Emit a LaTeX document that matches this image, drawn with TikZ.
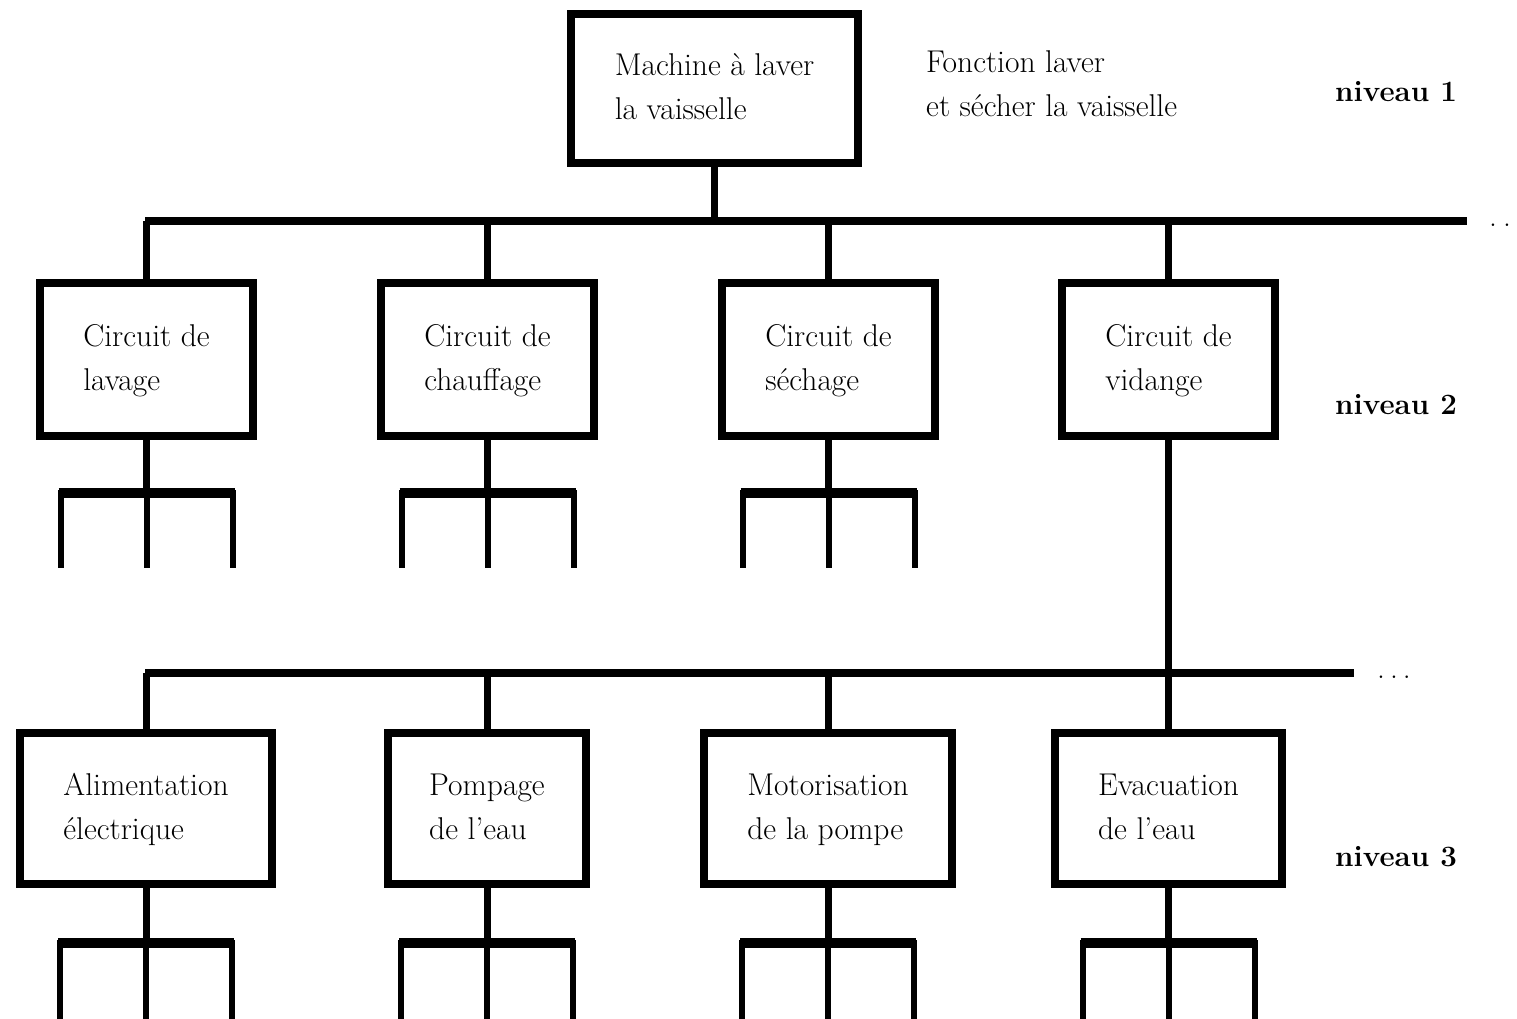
\documentclass[tikz,border=0pt]{standalone}
\usepackage{fontspec}
\setmainfont{Latin Modern Roman}
\begin{document}
\begin{tikzpicture}[x=1pt,y=-1pt,
  box/.style={draw,line width=8pt,inner sep=0pt,align=left,font=\fontsize{31.5}{44}\selectfont},
  lbl/.style={inner sep=0pt,align=left,font=\fontsize{31.5}{44}\selectfont},
  lvl/.style={inner sep=0pt,anchor=west,font=\fontsize{29.5}{44}\selectfont\bfseries},
  bus/.style={line width=8.5pt},
  stem/.style={line width=7pt},
  bar/.style={line width=10pt},
  leg/.style={line width=6pt}]
\useasboundingbox (0,0) rectangle (1517,1018);
% level 1
\node[box,minimum width=287pt,minimum height=149pt] (top) at (714.5,88.5) {\strut Machine à laver\\la vaisselle\strut};
\node[lbl,anchor=west] (fn) at (926,86) {\strut Fonction laver\\et sécher la vaisselle\strut};
\node[lvl] (n1) at (1335,92) {niveau 1};
% bus 1
\coordinate (b1l) at (145,221);
\coordinate (b1r) at (1467,221);
\draw[bus] (b1l) -- (b1r);
\draw[stem] (top.south) -- (top.south |- b1l);
\node[lbl,anchor=base west] (d1) at (1489,226) {.\hspace{6pt}.};
% level 2
\foreach \n/\x/\t in {c1/146.5/{Circuit de\\lavage},c2/487.5/{Circuit de\\chauffage},c3/828.5/{Circuit de\\séchage},c4/1168.5/{Circuit de\\vidange}}{
  \node[box,minimum width=213pt,minimum height=153pt] (\n) at (\x,359.5) {\strut\t\strut};
  \draw[stem] (\n.north |- b1l) -- (\n.north);
}
\node[lvl] (n2) at (1335,405) {niveau 2};
% forks level 2
\foreach \n in {c1,c2,c3}{
  \coordinate (j\n) at (\n.south |- 0,493);
  \draw[stem] (\n.south) -- (j\n);
  \draw[bar] (j\n) ++(-88,0) -- ++(176,0);
  \draw[leg] (j\n) ++(-86,-3) -- ++(0,78);
  \draw[leg] (j\n) ++(0,-3) -- ++(0,78);
  \draw[leg] (j\n) ++(86,-3) -- ++(0,78);
}
% bus 2
\coordinate (b2l) at (145,673);
\coordinate (b2r) at (1354,673);
\draw[bus] (b2l) -- (b2r);
\draw[stem] (c4.south) -- (c4.south |- b2l);
\node[lbl,anchor=base west] (d2) at (1377,678) {.\hspace{5pt}.\hspace{5pt}.};
% level 3
\foreach \n/\x/\w/\t in {e1/146/252/{Alimentation\\électrique},e2/487/198/{Pompage\\de l'eau},e3/828/248/{Motorisation\\de la pompe},e4/1168.5/227/{Evacuation\\de l'eau}}{
  \node[box,minimum width=\w pt,minimum height=151pt] (\n) at (\x,808.5) {\strut\t\strut};
  \draw[stem] (\n.north |- b2l) -- (\n.north);
  \coordinate (j\n) at (\n.south |- 0,943);
  \draw[stem] (\n.south) -- (j\n);
  \draw[bar] (j\n) ++(-88,0) -- ++(176,0);
  \draw[leg] (j\n) ++(-86,-3) -- ++(0,80);
  \draw[leg] (j\n) ++(0,-3) -- ++(0,80);
  \draw[leg] (j\n) ++(86,-3) -- ++(0,80);
}
\node[lvl] (n3) at (1335,857) {niveau 3};
\end{tikzpicture}
\end{document}
